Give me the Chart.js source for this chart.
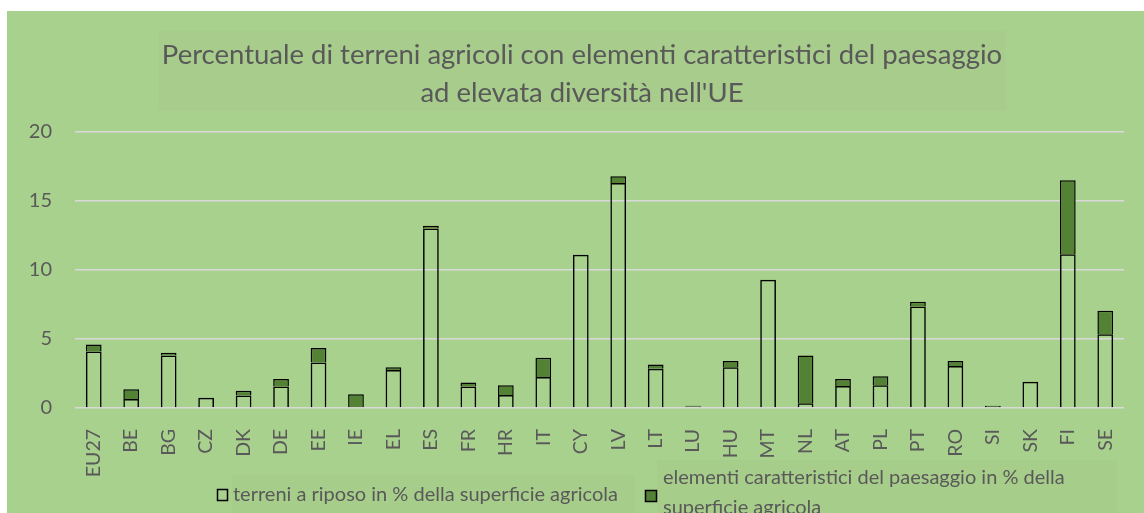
<!DOCTYPE html>
<html><head><meta charset="utf-8">
<script src="https://cdn.jsdelivr.net/npm/chart.js@4.4.1/dist/chart.umd.min.js"></script>
<style>
html,body{margin:0;padding:0;background:#ffffff;width:1144px;height:513px;overflow:hidden;}
#wrap{position:absolute;left:7px;top:11px;width:1137px;height:502px;background:#A9D18E;}
canvas{display:block;}
</style></head><body>
<div id="wrap"><canvas id="c" width="1137" height="502"></canvas></div>
<script>
const categories = ['EU27','BE','BG','CZ','DK','DE','EE','IE','EL','ES','FR','HR','IT','CY','LV','LT','LU','HU','MT','NL','AT','PL','PT','RO','SI','SK','FI','SE'];
const fallowLand = [4.1,0.65,3.8,0.75,0.9,1.55,3.3,0.05,2.75,13.0,1.55,0.95,2.25,11.1,16.3,2.85,0.1,2.95,9.3,0.35,1.6,1.65,7.35,3.05,0.05,1.9,11.15,5.35];
const landscapeFeatures = [0.5,0.7,0.2,0,0.35,0.55,1.05,0.95,0.2,0.2,0.3,0.7,1.4,0,0.5,0.3,0.07,0.45,0,3.45,0.5,0.65,0.35,0.35,0.12,0,5.35,1.7];
const yTicks = [0,5,10,15,20];
const titleLines = ['Percentuale di terreni agricoli con elementi caratteristici del paesaggio', "ad elevata diversità nell'UE"];
const seriesNames = ['terreni a riposo in % della superficie agricola', ['elementi caratteristici del paesaggio in % della', 'superficie agricola']];

const TEXT = '#595959';
const FONT = 'Lato, "Open Sans", sans-serif';
const GREEN = '#548235';

const decorPlugin = {
  id: 'decor',
  afterLayout(chart) {
    if (chart.titleBlock) { chart.titleBlock.left += 16.5; chart.titleBlock.right += 16.5; }
  },
  beforeDraw(chart) {
    const ctx = chart.ctx;
    ctx.save();
    ctx.fillStyle = '#A7CC8B';
    ctx.fillRect(152, 20, 847, 80);
    ctx.fillStyle = '#A7CD8B';
    ctx.fillRect(225, 464, 403, 38);
    ctx.fillRect(650, 449, 460, 53);
    ctx.restore();
  },
  afterDraw(chart) {
    const ctx = chart.ctx;
    const b = chart.chartArea.bottom;
    ctx.save();
    ctx.lineWidth = 1.5;
    ctx.strokeStyle = '#000000';
    ctx.strokeRect(210.5, b + 81.5, 10, 11);
    ctx.fillStyle = TEXT;
    ctx.font = '20px ' + FONT;
    ctx.textBaseline = 'middle';
    ctx.textAlign = 'left';
    ctx.fillText(seriesNames[0], 226, b + 87);
    ctx.fillStyle = GREEN;
    ctx.fillRect(638.5, b + 82.5, 11, 11);
    ctx.strokeRect(638.5, b + 82.5, 11, 11);
    ctx.fillStyle = TEXT;
    ctx.fillText(seriesNames[1][0], 656, b + 70);
    ctx.fillText(seriesNames[1][1], 656, b + 100);
    ctx.restore();
  }
};

function build() {
  new Chart(document.getElementById('c'), {
    type: 'bar',
    data: {
      labels: categories,
      datasets: [
        { label: seriesNames[0], data: fallowLand, backgroundColor: 'rgba(0,0,0,0)', borderColor: '#000000', borderWidth: 1.5, categoryPercentage: 1, barPercentage: 0.42 },
        { label: seriesNames[1].join(' '), data: landscapeFeatures, backgroundColor: GREEN, borderColor: '#000000', borderWidth: 1.5, categoryPercentage: 1, barPercentage: 0.42 }
      ]
    },
    options: {
      responsive: false,
      animation: false,
      layout: { padding: { left: 0, right: 20, top: 0, bottom: 25 } },
      plugins: {
        legend: { display: false },
        tooltip: { enabled: false },
        title: {
          display: true, text: titleLines, color: TEXT,
          font: { family: FONT, size: 27.5, weight: 'normal', lineHeight: 38/27.5 },
          padding: { top: 25, bottom: 20 }
        }
      },
      scales: {
        x: {
          stacked: true,
          grid: { display: false },
          border: { display: false },
          ticks: { color: TEXT, font: { family: FONT, size: 19.5 }, minRotation: 90, maxRotation: 90, autoSkip: false, padding: 13 },
          afterFit(s) { s.height = 80; }
        },
        y: {
          stacked: true, min: 0, max: 20,
          grid: { color: '#D9D9D9', lineWidth: 1.5, drawTicks: false },
          border: { display: false },
          ticks: { color: TEXT, font: { family: FONT, size: 20 }, padding: 23, stepSize: 5 },
          afterBuildTicks(s) { s.ticks = yTicks.map(v => ({ value: v })); },
          afterFit(s) { s.width = 68; }
        }
      }
    },
    plugins: [decorPlugin]
  });
}
if (document.fonts && document.fonts.load) {
  Promise.all([document.fonts.load('26px Lato'), document.fonts.load('18px Lato')]).then(build, build);
} else { build(); }
</script>
</body></html>
